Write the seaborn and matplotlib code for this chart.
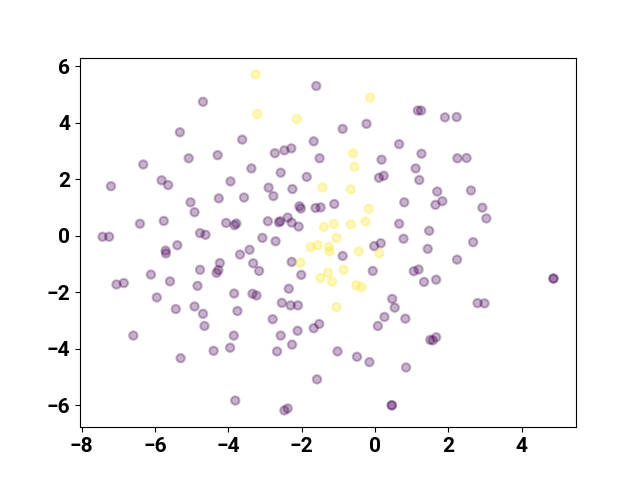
import matplotlib
matplotlib.use("Agg")
import matplotlib.pyplot as plt
import seaborn as sns
import pandas as pd

# class 1 (yellow) points
yellow_x = [-3.25, -0.13, -3.21, -2.13, -0.60, -0.56, -1.43, -0.66, -0.17, -1.39, -1.12, -0.66, -0.26,
            -1.05, -1.75, -1.56, -1.26, -1.24, -0.44, 0.12, -2.03, -1.28, -0.85, -1.49, -1.17, -0.51,
            -0.37, -1.05]
yellow_y = [5.72, 4.90, 4.32, 4.14, 2.93, 2.45, 1.72, 1.65, 0.96, 0.31, 0.42, 0.41, 0.51,
            -0.07, -0.40, -0.33, -0.39, -0.55, -0.55, -0.62, -0.95, -1.31, -1.20, -1.49, -1.62, -1.75,
            -1.81, -2.52]

# class 0 (purple) points
purple_x = [-4.69, -5.32, -3.62, -6.32, -5.08, -4.29,
            -1.60, -0.88, -0.23, -1.67, 0.66, -2.73, -2.47, -2.28, -1.51, 0.18, -3.37, -2.57, -1.86, 0.11, 0.24,
            1.17, 1.26, 1.91, 2.23, 1.27, 2.25, 2.50, 1.11,
            -7.20, -5.82, -5.64, -3.94, -5.03, -4.26, -3.57, -4.92, -6.41, -5.76, -4.06, -3.83, -3.78, -7.43,
            -7.25, -4.77, -4.62, -5.39, -5.71, -5.70, -3.68, -3.42, -4.23, -4.32, -4.27, -4.77, -6.11, -5.59,
            -4.84, -7.05, -6.85, -5.95, -3.84,
            -2.90, -2.25, -2.77, 0.80, -2.06, -2.02, -1.62, -1.48, -1.11, -2.92, -2.62, -2.58, -2.38, -2.27,
            -2.08, 0.66, -3.07, -2.71, 0.78, -0.02, 0.16, -0.88, -3.32, -3.16, -2.27, -2.01, -0.06, -2.35,
            -3.34, -3.23, 0.47,
            1.21, 1.70, 2.62, 1.65, 1.84, 2.93, 3.04, 1.48, 1.44, 2.68, 2.24, 1.06, 1.19, 1.34, 1.67, 4.87, 4.87,
            -5.43, -4.92, -4.69, -3.75, -4.65, -6.59, -3.85, -3.95, -4.40, -5.30, -3.81,
            -2.54, -2.30, -2.10, 0.54, -2.79, 0.26, 0.83, -2.11, -1.67, -1.52, 0.08, -2.57, -2.26, -2.67, -1.02,
            -0.49, -0.15, 0.85, -1.58, -2.47, -2.38, 0.46, 0.46,
            2.80, 2.99, 1.51, 1.58, 1.67]
purple_y = [4.75, 3.67, 3.41, 2.53, 2.75, 2.86,
            5.31, 3.79, 3.97, 3.35, 3.25, 2.93, 3.03, 3.10, 2.75, 2.70, 2.39, 2.24, 2.09, 2.06, 2.13,
            4.44, 4.44, 4.20, 4.21, 2.91, 2.75, 2.76, 2.39,
            1.76, 1.97, 1.80, 1.93, 1.19, 1.33, 1.36, 0.84, 0.43, 0.53, 0.46, 0.38, 0.44, -0.03,
            -0.03, 0.10, 0.04, -0.33, -0.52, -0.62, -0.66, -0.49, -0.96, -1.31, -1.21, -1.20, -1.37, -1.61,
            -1.77, -1.72, -1.67, -2.18, -2.04,
            1.71, 1.66, 1.41, 1.19, 1.05, 0.97, 0.99, 1.01, 1.13, 0.52, 0.48, 0.52, 0.65, 0.47,
            0.33, 0.43, -0.07, -0.19, -0.10, -0.36, -0.26, -0.71, -0.97, -1.24, -0.92, -1.38, -1.24, -1.87,
            -2.05, -2.11, -2.23,
            1.98, 1.57, 1.61, 1.10, 1.23, 1.00, 0.62, 0.18, -0.46, -0.22, -0.84, -1.25, -1.19, -1.63, -1.55, -1.51, -1.51,
            -2.59, -2.50, -2.76, -2.66, -3.19, -3.53, -3.53, -3.96, -4.07, -4.33, -5.83,
            -2.37, -2.46, -2.46, -2.54, -2.95, -2.87, -2.93, -3.36, -3.27, -3.12, -3.19, -3.53, -3.85, -4.09, -4.09,
            -4.28, -4.47, -4.66, -5.08, -6.18, -6.11, -6.00, -6.00,
            -2.38, -2.39, -3.68, -3.70, -3.59]

df = pd.DataFrame({
    "x": purple_x + yellow_x,
    "y": purple_y + yellow_y,
    "cls": [0] * len(purple_x) + [1] * len(yellow_x),
})

fig, ax = plt.subplots(figsize=(6.4, 4.8), dpi=100)
sns.scatterplot(data=df, x="x", y="y", hue="cls",
                palette={0: "#440154", 1: "#fde725"},
                alpha=0.3, s=36, edgecolor="face", linewidth=1.5,
                legend=False, ax=ax)
ax.set_xlabel("")
ax.set_ylabel("")
for lab in ax.get_xticklabels() + ax.get_yticklabels():
    lab.set_fontfamily("Roboto")
    lab.set_fontweight("bold")
    lab.set_fontsize(15)
fig.savefig("out.png", dpi=100)
